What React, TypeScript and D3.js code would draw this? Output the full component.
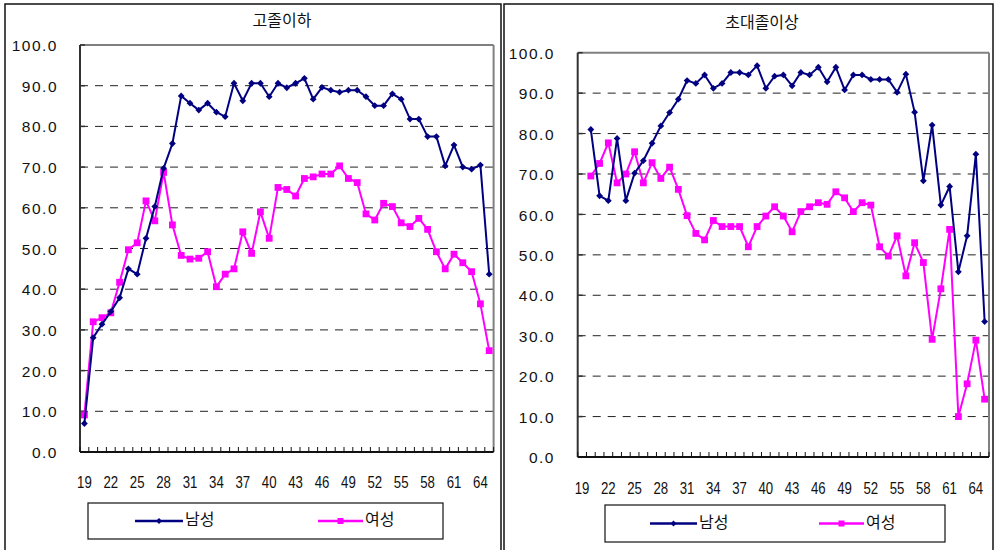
import React from "react";
import * as d3 from "d3";

const ages = [19,20,21,22,23,24,25,26,27,28,29,30,31,32,33,34,35,36,37,38,39,40,41,42,43,44,45,46,47,48,49,50,51,52,53,54,55,56,57,58,59,60,61,62,63,64,65];
const yTicks = [0,10,20,30,40,50,60,70,80,90,100];
const xLabelAges = [19,22,25,28,31,34,37,40,43,46,49,52,55,58,61,64];

const leftMale = [7.0,28.1,31.4,34.5,37.9,45.0,43.7,52.5,60.3,69.7,75.8,87.5,85.7,84.0,85.7,83.5,82.4,90.6,86.3,90.6,90.6,87.3,90.6,89.5,90.6,91.8,86.7,89.6,88.9,88.4,88.9,88.9,87.3,85.1,85.1,88.0,86.7,81.8,81.8,77.5,77.5,70.3,75.4,70.0,69.5,70.5,43.7];
const leftFemale = [9.1,32.0,33.0,34.2,41.7,49.7,51.4,61.7,56.8,68.7,55.8,48.3,47.4,47.6,49.2,40.6,43.7,45.0,54.1,48.8,59.0,52.5,65.0,64.5,62.9,67.2,67.6,68.3,68.3,70.3,67.2,66.2,58.5,57.0,61.1,60.3,56.3,55.4,57.4,54.7,49.2,45.0,48.6,46.5,44.3,36.4,24.9];
const rightMale = [null,81.0,64.6,63.4,78.8,63.4,70.2,73.3,77.6,81.9,85.2,88.5,93.1,92.4,94.5,91.2,92.4,95.1,95.1,94.5,96.8,91.2,94.2,94.5,91.8,95.1,94.5,96.4,92.8,96.4,90.8,94.5,94.5,93.4,93.4,93.4,90.2,94.7,85.3,68.3,82.1,62.3,66.9,45.8,54.7,74.9,33.5];
const rightFemale = [null,69.5,72.6,77.7,67.8,70.0,75.5,67.8,72.8,68.9,71.7,66.2,59.7,55.3,53.7,58.5,57.0,57.0,57.0,52.0,57.0,59.6,61.9,59.6,55.7,60.7,61.9,62.9,62.5,65.6,64.1,60.7,62.9,62.3,52.0,49.7,54.7,44.8,53.0,48.1,29.1,41.6,56.3,10.0,18.1,28.9,14.3];

const seriesNames = ["남성", "여성"];
const titles = ["고졸이하", "초대졸이상"];

const MALE = "#000080";
const FEMALE = "#FF00FF";
const NUM_FONT = "'Liberation Sans', Arial, sans-serif";
const KR_FONT = "'Noto Sans CJK KR', sans-serif";

type PanelProps = {
  title: string;
  male: (number | null)[];
  female: (number | null)[];
  x0: number; x1: number; yTop: number; yBot: number;
  titleX: number; titleY: number;
  yLabelX: number; xLabelY: number;
  legend: { x0: number; x1: number; y0: number; y1: number; m0: number; m1: number; f0: number; f1: number };
};

function Diamond({ cx, cy, r, fill }: { cx: number; cy: number; r: number; fill: string }) {
  return <path d={`M${cx},${cy - r}L${cx + r},${cy}L${cx},${cy + r}L${cx - r},${cy}Z`} fill={fill} />;
}

function Panel(p: PanelProps) {
  const x = d3.scaleBand<number>().domain(ages).range([p.x0, p.x1]);
  const bw = x.bandwidth();
  const cx = (a: number) => (x(a) as number) + bw / 2;
  const y = d3.scaleLinear().domain([0, 100]).range([p.yBot, p.yTop]);
  const line = d3
    .line<number | null>()
    .defined((d) => d != null)
    .x((_, i) => cx(ages[i]))
    .y((d) => y(d as number));
  const boundaries = d3.range(ages.length + 1).map((i) => p.x0 + i * bw);
  const L = p.legend;
  const ly = (L.y0 + L.y1) / 2;
  return (
    <g>
      <text x={p.titleX} y={p.titleY} textAnchor="middle" dominantBaseline="middle" fontFamily={KR_FONT} fontSize={16} fill="#111">{p.title}</text>
      {/* gridlines */}
      {yTicks.filter((t) => t > 0 && t < 100).map((t) => (
        <line key={t} x1={p.x0} x2={p.x1} y1={y(t)} y2={y(t)} stroke="#222" strokeWidth={1} strokeDasharray="8,7" />
      ))}
      {/* plot border top/right */}
      <line x1={p.x0} x2={p.x1} y1={p.yTop} y2={p.yTop} stroke="#808080" strokeWidth={2} />
      <line x1={p.x1} x2={p.x1} y1={p.yTop} y2={p.yBot} stroke="#808080" strokeWidth={2} />
      {/* y axis */}
      <line x1={p.x0} x2={p.x0} y1={p.yTop} y2={p.yBot} stroke="#333" strokeWidth={2} />
      {yTicks.map((t) => (
        <line key={t} x1={p.x0} x2={p.x0 + 5} y1={y(t)} y2={y(t)} stroke="#333" strokeWidth={1.5} />
      ))}
      {yTicks.map((t) => (
        <text key={t} x={p.yLabelX} y={y(t) + 2} textAnchor="end" dominantBaseline="middle" fontFamily={NUM_FONT} fontSize={15.5} letterSpacing={1.5} fill="#111">{t.toFixed(1)}</text>
      ))}
      {/* x axis */}
      <line x1={p.x0} x2={p.x1} y1={p.yBot} y2={p.yBot} stroke="#111" strokeWidth={2} />
      {boundaries.map((bx, i) => (
        <line key={i} x1={bx} x2={bx} y1={p.yBot} y2={p.yBot - 5} stroke="#111" strokeWidth={1} />
      ))}
      {xLabelAges.map((a) => (
        <text key={a} transform={`translate(${cx(a)},${p.xLabelY}) scale(0.8,1)`} textAnchor="middle" dominantBaseline="middle" fontFamily={NUM_FONT} fontSize={16.5} fill="#111">{a}</text>
      ))}
      {/* series */}
      <path d={line(p.female) || ""} fill="none" stroke={FEMALE} strokeWidth={2} />
      {p.female.map((v, i) => v == null ? null : (
        <rect key={i} x={cx(ages[i]) - 3.4} y={y(v) - 3.4} width={6.8} height={6.8} fill={FEMALE} />
      ))}
      <path d={line(p.male) || ""} fill="none" stroke={MALE} strokeWidth={2} />
      {p.male.map((v, i) => v == null ? null : (
        <Diamond key={i} cx={cx(ages[i])} cy={y(v)} r={3.4} fill={MALE} />
      ))}
      {/* legend */}
      <rect x={L.x0} y={L.y0} width={L.x1 - L.x0} height={L.y1 - L.y0} fill="white" stroke="#111" strokeWidth={1.2} />
      <line x1={L.m0} x2={L.m1} y1={ly} y2={ly} stroke={MALE} strokeWidth={2.5} />
      <Diamond cx={(L.m0 + L.m1) / 2} cy={ly} r={3} fill={MALE} />
      <text x={L.m1 + 2} y={ly} dominantBaseline="middle" fontFamily={KR_FONT} fontSize={16} fill="#111">{seriesNames[0]}</text>
      <line x1={L.f0} x2={L.f1} y1={ly} y2={ly} stroke={FEMALE} strokeWidth={2.5} />
      <rect x={(L.f0 + L.f1) / 2 - 3} y={ly - 3} width={6} height={6} fill={FEMALE} />
      <text x={L.f1 + 2} y={ly} dominantBaseline="middle" fontFamily={KR_FONT} fontSize={16} fill="#111">{seriesNames[1]}</text>
    </g>
  );
}

export default function App() {
  return (
    <svg width={995} height={550} style={{ position: "absolute", left: 0, top: 0, background: "white" }}>
      <rect x={0} y={0} width={995} height={550} fill="white" />
      {/* outer frames */}
      <path d="M5,560 L5,4 L501,4 L501,560" fill="none" stroke="#111" strokeWidth={1.5} />
      <path d="M504,560 L504,4 L993,4 L993,560" fill="none" stroke="#111" strokeWidth={1.5} />
      <Panel
        title={titles[0]} male={leftMale} female={leftFemale}
        x0={80} x1={493.6} yTop={45} yBot={452}
        titleX={282} titleY={22} yLabelX={58} xLabelY={484}
        legend={{ x0: 88, x1: 443, y0: 503, y1: 539, m0: 135, m1: 183, f0: 318, f1: 363 }}
      />
      <Panel
        title={titles[1]} male={rightMale} female={rightFemale}
        x0={577.7} x1={989} yTop={52.7} yBot={457}
        titleX={762} titleY={24} yLabelX={555} xLabelY={490}
        legend={{ x0: 605, x1: 945, y0: 505, y1: 542, m0: 650, m1: 697, f0: 819, f1: 864 }}
      />
    </svg>
  );
}
